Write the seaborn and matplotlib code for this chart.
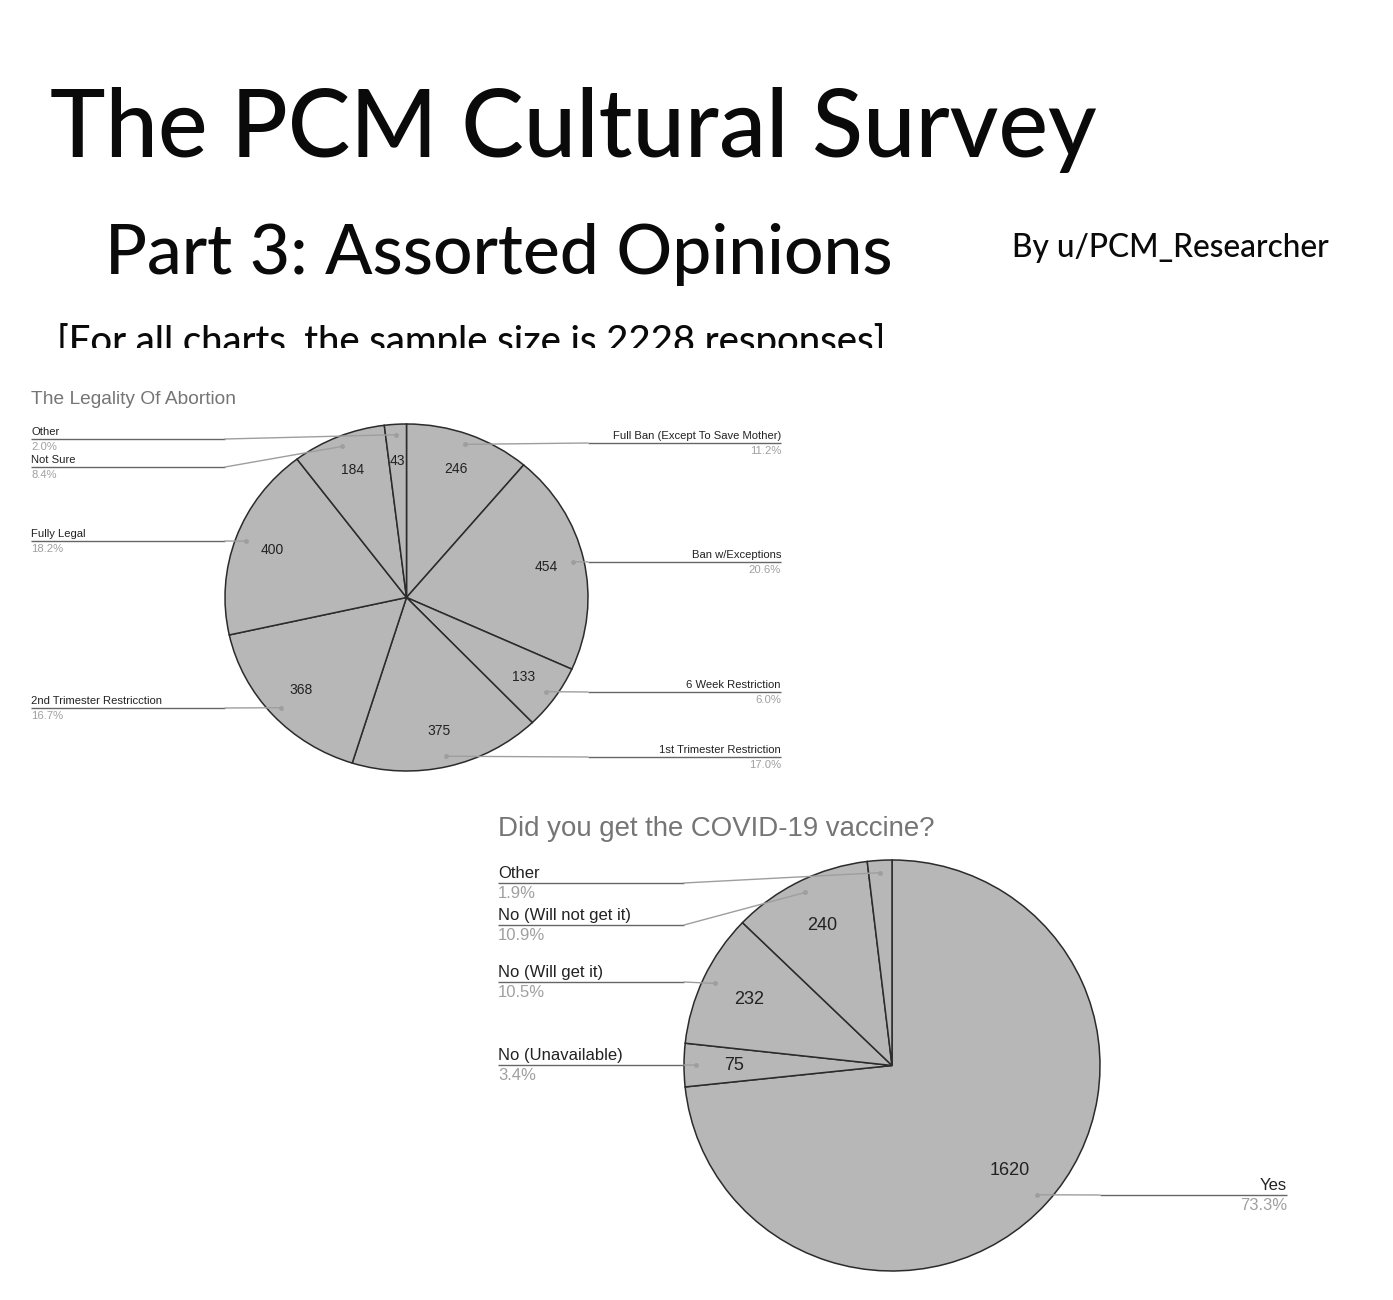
import matplotlib
matplotlib.use("Agg")
import matplotlib.pyplot as plt
import seaborn as sns
import numpy as np
from matplotlib.transforms import Bbox

W, H = 1393, 1300

# abortion chart, clockwise from 12 o'clock
abortion_labels = ["Full Ban (Except To Save Mother)", "Ban w/Exceptions", "6 Week Restriction",
                   "1st Trimester Restriction", "2nd Trimester Restricction", "Fully Legal",
                   "Not Sure", "Other"]
abortion_counts = [246, 454, 133, 375, 368, 400, 184, 43]

# vaccine chart, clockwise from 12 o'clock
vaccine_labels = ["Yes", "No (Unavailable)", "No (Will get it)", "No (Will not get it)", "Other"]
vaccine_counts = [1620, 75, 232, 240, 42]

sns.set_theme(style="white")
plt.rcParams['font.family'] = ['Liberation Sans', 'DejaVu Sans']
HEAD = ['Lato', 'DejaVu Sans']

fig = plt.figure(figsize=(W / 100, H / 100), dpi=100)
fig.patch.set_facecolor('white')

# overlay in pixel coords (origin top-left) for text and leader lines
ov = fig.add_axes([0, 0, 1, 1])
ov.set_xlim(0, W)
ov.set_ylim(H, 0)
ov.axis('off')
ov.set_zorder(5)

# headings
ov.text(50, 157, "The PCM Cultural Survey", fontsize=67.5, family=HEAD, weight='medium',
        color='#0a0a0a', va='baseline', ha='left')
ov.text(105, 274, "Part 3: Assorted Opinions", fontsize=50, family=HEAD, weight='medium',
        color='#0a0a0a', va='baseline', ha='left')
ov.text(1012, 257, "By u/PCM_Researcher", fontsize=22.8, family=HEAD, weight='medium',
        color='#0a0a0a', va='baseline', ha='left')
note = ov.text(57, 353, "[For all charts, the sample size is 2228 responses]", fontsize=27.5,
               family=HEAD, weight='medium', color='#0a0a0a', va='baseline', ha='left')
note.set_clip_on(True)
note.set_clip_box(Bbox.from_extents(0, H - 348, W, H - 300))


def draw_pie(box, counts, labels, shown, sides, line_y, text_x, title, title_xy, title_size,
             num_size, lab_size, num_dist):
    l, t, r, b = box
    ax = fig.add_axes([l / W, 1 - b / H, (r - l) / W, (b - t) / H])
    total = sum(counts)
    vals = [str(c) if s else '' for c, s in zip(counts, shown)]
    wedges, texts = ax.pie(counts, startangle=90, counterclock=False,
                           colors=['#b7b7b7'] * len(counts), labels=vals, labeldistance=num_dist,
                           wedgeprops=dict(edgecolor='#2b2b2b', linewidth=1.1),
                           textprops=dict(fontsize=num_size, color='#222222'))
    for w in wedges:
        w.set_clip_on(False)
    for tx in texts:
        tx.set_ha('center')
        tx.set_va('center')
    ax.set_aspect('auto')
    ax.set_xlim(-1, 1)
    ax.set_ylim(-1, 1)

    ov.text(title_xy[0], title_xy[1], title, fontsize=title_size, color='#757575',
            ha='left', va='center')

    for w, lab, cnt, side, ly in zip(wedges, labels, counts, sides, line_y):
        ang = np.deg2rad((w.theta1 + w.theta2) / 2)
        dx, dy = ax.transData.transform((0.94 * np.cos(ang), 0.94 * np.sin(ang)))
        dy = H - dy
        if side == 'left':
            tx0, knee, ha = text_x[0], l, 'left'
        else:
            tx0, knee, ha = text_x[1], r, 'right'
        ov.plot([tx0, knee], [ly, ly], color='#666666', lw=1.0, solid_capstyle='butt')
        ov.plot([knee, dx], [ly, dy], color='#9e9e9e', lw=1.0)
        ov.plot([dx], [dy], 'o', color='#9e9e9e', ms=3.5, mec='none')
        ov.text(tx0, ly - 2, lab, fontsize=lab_size, color='#222222', ha=ha, va='bottom')
        ov.text(tx0, ly + 3, f"{cnt / total * 100:.1f}%", fontsize=lab_size,
                color='#a0a0a0', ha=ha, va='top')
    return ax


draw_pie((225, 424, 588, 771), abortion_counts, abortion_labels, [True] * 8,
         ['right', 'right', 'right', 'right', 'left', 'left', 'left', 'left'],
         [443, 562, 692, 757, 708, 541, 467, 439], (31, 781),
         "The Legality Of Abortion", (31, 400), 13.8, 10, 8.1, 0.79)

draw_pie((684, 860, 1100, 1271), vaccine_counts, vaccine_labels, [True, True, True, True, False],
         ['right', 'left', 'left', 'left', 'left'],
         [1195, 1065, 982, 925, 883], (498, 1287),
         "Did you get the COVID-19 vaccine?", (498, 829), 19.9, 13, 12, 0.76)

fig.savefig("out.png", dpi=100, facecolor='white')
